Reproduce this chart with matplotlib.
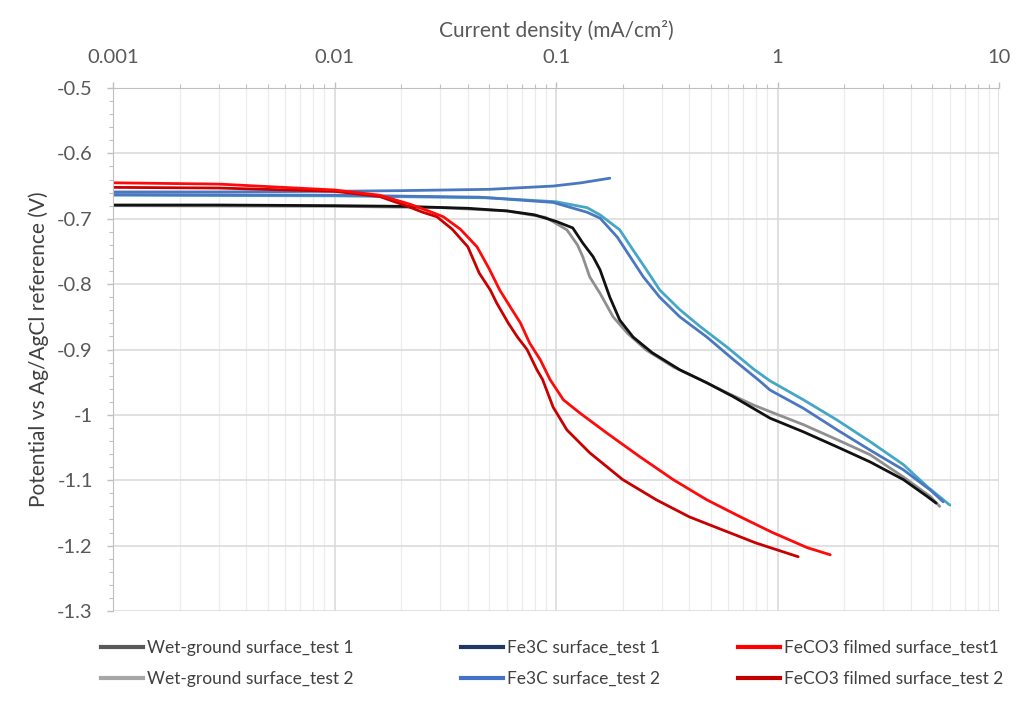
"""Polarisation curves: potential vs current density for three surface types."""

import matplotlib

matplotlib.use("Agg")
import matplotlib.pyplot as plt
from matplotlib.lines import Line2D
from matplotlib.ticker import FuncFormatter, LogLocator, MultipleLocator

plt.rcParams["font.family"] = ["Lato", "DejaVu Sans"]
plt.rcParams["axes.unicode_minus"] = False

# Wet-ground surface, test 1
wet1_x = [0.001, 0.003, 0.01, 0.02, 0.04, 0.06, 0.08, 0.1, 0.119, 0.132, 0.147, 0.158,
          0.175, 0.194, 0.223, 0.272, 0.362, 0.48, 0.63, 0.925, 1.31, 1.86, 2.62, 3.7,
          4.75, 5.2]
wet1_y = [-0.679, -0.679, -0.680, -0.681, -0.684, -0.688, -0.694, -0.704, -0.714, -0.737,
          -0.758, -0.778, -0.820, -0.855, -0.881, -0.905, -0.931, -0.951, -0.972, -1.005,
          -1.026, -1.049, -1.072, -1.099, -1.125, -1.135]

# Wet-ground surface, test 2
wet2_x = [0.001, 0.01, 0.03, 0.06, 0.09, 0.112, 0.125, 0.132, 0.142, 0.158, 0.181, 0.21,
          0.256, 0.34, 0.448, 0.59, 0.78, 0.925, 1.31, 1.86, 2.62, 3.7, 4.9, 5.4]
wet2_y = [-0.680, -0.681, -0.683, -0.688, -0.698, -0.717, -0.740, -0.758, -0.789, -0.814,
          -0.850, -0.875, -0.901, -0.927, -0.946, -0.966, -0.985, -0.995, -1.015, -1.038,
          -1.061, -1.095, -1.125, -1.140]

# Fe3C surface, test 1
fe3c1_x = [0.001, 0.01, 0.05, 0.1, 0.138, 0.158, 0.194, 0.223, 0.256, 0.294, 0.362, 0.448,
           0.59, 0.78, 0.925, 1.31, 1.86, 2.62, 3.7, 4.75, 6.0]
fe3c1_y = [-0.664, -0.665, -0.668, -0.674, -0.683, -0.694, -0.717, -0.748, -0.778, -0.809,
           -0.839, -0.865, -0.896, -0.930, -0.948, -0.977, -1.008, -1.041, -1.076, -1.110,
           -1.138]

# Fe3C surface, test 2 (cathodic and anodic branches)
fe3c2_x = [0.001, 0.01, 0.045, 0.097, 0.138, 0.158, 0.189, 0.216, 0.248, 0.294, 0.362,
           0.48, 0.63, 0.83, 0.925, 1.31, 1.86, 2.62, 3.7, 4.9, 5.6]
fe3c2_y = [-0.663, -0.664, -0.667, -0.675, -0.690, -0.699, -0.728, -0.758, -0.789, -0.820,
           -0.850, -0.881, -0.915, -0.948, -0.962, -0.990, -1.023, -1.054, -1.084, -1.115,
           -1.133]
fe3c2_anodic_x = [0.001, 0.003, 0.01, 0.02, 0.05, 0.097, 0.13, 0.175]
fe3c2_anodic_y = [-0.659, -0.659, -0.658, -0.657, -0.655, -0.650, -0.645, -0.638]

# FeCO3 filmed surface, test 1
feco1_x = [0.001, 0.003, 0.01, 0.016, 0.022, 0.027, 0.031, 0.037, 0.044, 0.050, 0.0557,
           0.063, 0.069, 0.076, 0.085, 0.094, 0.108, 0.128, 0.17, 0.239, 0.338, 0.48,
           0.68, 0.95, 1.36, 1.73]
feco1_y = [-0.645, -0.647, -0.656, -0.664, -0.678, -0.689, -0.697, -0.716, -0.743, -0.777,
           -0.809, -0.838, -0.859, -0.890, -0.916, -0.946, -0.977, -0.997, -1.028, -1.064,
           -1.099, -1.130, -1.156, -1.180, -1.203, -1.214]

# FeCO3 filmed surface, test 2
feco2_x = [0.001, 0.003, 0.01, 0.016, 0.021, 0.025, 0.029, 0.034, 0.040, 0.045, 0.0505,
           0.054, 0.061, 0.067, 0.074, 0.082, 0.087, 0.097, 0.112, 0.142, 0.2, 0.284,
           0.4, 0.565, 0.8, 1.24]
feco2_y = [-0.652, -0.653, -0.658, -0.666, -0.680, -0.690, -0.697, -0.716, -0.743, -0.783,
           -0.809, -0.829, -0.860, -0.881, -0.900, -0.931, -0.946, -0.988, -1.023, -1.058,
           -1.099, -1.130, -1.156, -1.176, -1.196, -1.217]

labels = [
    "Wet-ground surface_test 1", "Wet-ground surface_test 2",
    "Fe3C surface_test 1", "Fe3C surface_test 2",
    "FeCO3 filmed surface_test1", "FeCO3 filmed surface_test 2",
]
legend_colors = ["#595959", "#a6a6a6", "#1f3864", "#4472c4", "#ff0000", "#c00000"]

fig = plt.figure(figsize=(10.24, 7.08), dpi=100)
ax = fig.add_axes([113 / 1024, 1 - 611 / 708, 886 / 1024, 523 / 708])

style = dict(lw=2.0, solid_joinstyle="round", solid_capstyle="round")
ax.plot(wet2_x, wet2_y, color="#8f8f8f", **style)
ax.plot(wet1_x, wet1_y, color="#111111", **style)
ax.plot(fe3c1_x, fe3c1_y, color="#45a6c6", **style)
ax.plot(fe3c2_x, fe3c2_y, color="#4a78c0", **style)
ax.plot(fe3c2_anodic_x, fe3c2_anodic_y, color="#4a78c0", **style)
ax.plot(feco2_x, feco2_y, color="#c80000", **style)
ax.plot(feco1_x, feco1_y, color="#ff0a0a", **style)

ax.set_xscale("log")
ax.set_xlim(0.001, 10)
ax.set_ylim(-1.3, -0.5)

ax.xaxis.tick_top()
ax.xaxis.set_label_position("top")
ax.xaxis.set_major_locator(LogLocator(base=10, numticks=10))
ax.xaxis.set_minor_locator(LogLocator(base=10, subs=range(2, 10), numticks=50))
ax.xaxis.set_major_formatter(FuncFormatter(lambda v, p: f"{v:g}"))
ax.yaxis.set_major_locator(MultipleLocator(0.1))
ax.yaxis.set_minor_locator(MultipleLocator(0.02))
ax.yaxis.set_major_formatter(FuncFormatter(lambda v, p: f"{round(v, 2):g}"))

ax.tick_params(which="major", length=4.5, width=1, color="#bfbfbf",
               labelsize=14.5, labelcolor="#595959")
ax.tick_params(which="minor", length=3, width=0.8, color="#bfbfbf")
ax.tick_params(axis="x", which="both", top=True, bottom=False, pad=11)
ax.tick_params(axis="y", which="both", left=True, right=False, pad=10)

ax.grid(which="major", color="#d9d9d9", lw=1.1)
ax.grid(which="minor", axis="x", color="#ececec", lw=0.9)
ax.set_axisbelow(True)
for side in ["right", "bottom"]:
    ax.spines[side].set_visible(False)
for side in ["top", "left"]:
    ax.spines[side].set_color("#bfbfbf")

ax.set_xlabel("Current density (mA/cm\u00b2)", fontsize=15, color="#595959", labelpad=9)
ax.set_ylabel("Potential vs Ag/AgCl reference (V)", fontsize=15, color="#404040",
              labelpad=6)

# legend: three columns of two entries each
handles = [Line2D([], [], color=c, lw=3) for c in legend_colors]
col_left = [101, 461, 738]
for i, x0 in enumerate(col_left):
    fig.legend(handles[2 * i:2 * i + 2], labels[2 * i:2 * i + 2], loc="upper left",
               bbox_to_anchor=(x0 / 1024, 1 - 640 / 708), frameon=False,
               fontsize=12.5, labelcolor="#404040", handlelength=2.4,
               handletextpad=0.25, labelspacing=0.85, borderpad=0, borderaxespad=0)

fig.savefig("out.png", dpi=100)
